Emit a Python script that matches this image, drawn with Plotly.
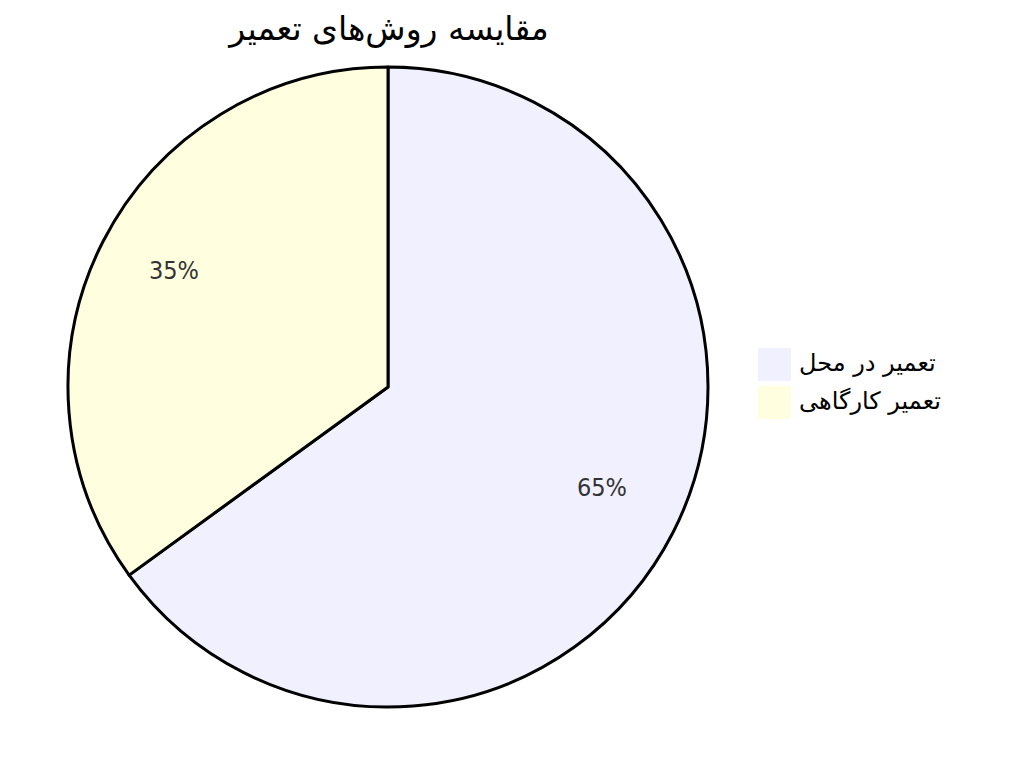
import math
import plotly.graph_objects as go

labels = ['تعمیر در محل', 'تعمیر کارگاهی']
values = [65, 35]
colors = ['#F0F0FF', '#FFFFE0']
title = 'مقایسه روش‌های تعمیر'

W, H = 1024, 774
L, T, SIZE = 60, 59, 640  # plot area in pixels


def px(x):
    return (x - L) / SIZE


def py(y):
    return 1 - (y - T) / SIZE


fig = go.Figure(go.Pie(
    labels=labels,
    values=values,
    sort=False,
    direction='clockwise',
    rotation=0,
    marker=dict(colors=colors, line=dict(color='#000000', width=3)),
    textinfo='none',
    hoverinfo='label+percent',
    showlegend=False,
))

# percentage labels at 0.75 of the radius, in the middle of each slice
total = sum(values)
start = 0
for v in values:
    mid = (start + v / 2) / total * 2 * math.pi
    start += v
    fig.add_annotation(
        x=0.5 + 0.5 * 0.75 * math.sin(mid), y=0.5 + 0.5 * 0.75 * math.cos(mid),
        xref='paper', yref='paper', xanchor='center', yanchor='middle',
        showarrow=False, yshift=8,
        text='%d%%' % round(v / total * 100),
        font=dict(family='DejaVu Sans Condensed', size=25, color='#333333'),
    )

# legend: coloured squares with labels
for i, (lab, col) in enumerate(zip(labels, colors)):
    y0 = 340 + i * 38
    fig.add_shape(type='rect', xref='paper', yref='paper',
                  x0=px(750), x1=px(783), y0=py(y0), y1=py(y0 + 33),
                  fillcolor=col, line=dict(width=0))
    fig.add_annotation(x=px(789), y=py(y0 + 15), xref='paper', yref='paper',
                       xanchor='left', yanchor='middle', showarrow=False, text=lab,
                       font=dict(family='DejaVu Sans', size=24, color='#000000'))

fig.update_layout(
    width=W, height=H,
    margin=dict(l=L, r=W - L - SIZE, t=T, b=H - T - SIZE),
    paper_bgcolor='white',
    plot_bgcolor='white',
    title=dict(text=title, x=381 / W, xanchor='center', y=1 - 20 / H, yanchor='middle',
               font=dict(family='DejaVu Sans', size=33, color='#000000')),
)

fig.write_html('out.html')
